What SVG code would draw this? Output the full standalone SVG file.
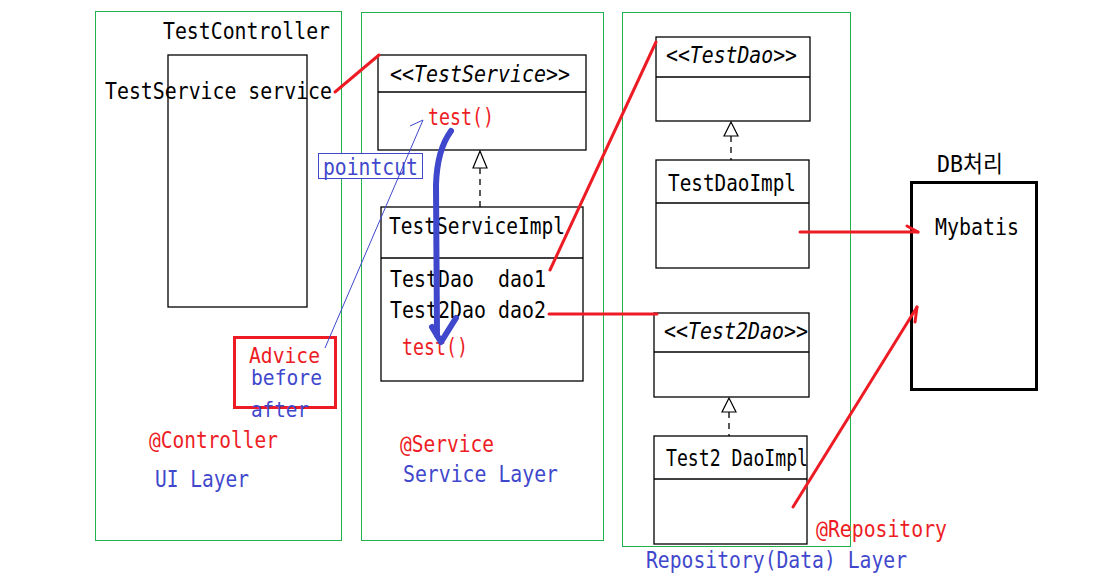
<svg xmlns="http://www.w3.org/2000/svg" width="1093" height="586" viewBox="0 0 1093 586">
<style>
text{font-family:"DejaVu Sans Mono","Liberation Mono","Noto Sans CJK KR",monospace;font-size:23px}
.k{fill:#000}
.r{fill:#ed1c24}
.b{fill:#3f48cc}
.sm{font-size:21px}
.it{font-style:italic;font-weight:300}
.layer{fill:none;stroke:#22b14c;stroke-width:1}
.box{fill:#fff;stroke:#000;stroke-width:1.3}
.div{stroke:#000;stroke-width:1.3}
.red{stroke:#ed1c24;stroke-width:3;fill:none;stroke-linecap:round}
.dash{stroke:#000;stroke-width:1.3;stroke-dasharray:6,5}
.tri{fill:#fff;stroke:#000;stroke-width:1.2}
</style>
<rect width="1093" height="586" fill="#fff"/>
<g id="layers">
<rect class="layer" x="95.5" y="11.5" width="246" height="529"/>
<rect class="layer" x="361.5" y="12.5" width="242" height="528"/>
<rect class="layer" x="622.5" y="12.5" width="228" height="534"/>
</g>
<g id="controller">
<rect class="box" x="168" y="55" width="139" height="252" fill="none"/>
<text class="k" x="163" y="39" textLength="167" lengthAdjust="spacingAndGlyphs">TestController</text>
<text class="k" x="105" y="99" textLength="227" lengthAdjust="spacingAndGlyphs">TestService service</text>
</g>
<g id="testservice">
<rect class="box" x="378" y="55" width="208" height="95"/>
<line class="div" x1="378" y1="92" x2="586" y2="92"/>
<text class="k it" x="390" y="82" textLength="180" lengthAdjust="spacingAndGlyphs">&lt;&lt;TestService&gt;&gt;</text>
<text class="r" x="428" y="125" textLength="66" lengthAdjust="spacingAndGlyphs">test()</text>
</g>
<g id="testserviceimpl">
<rect class="box" x="381" y="207" width="202" height="174"/>
<line class="div" x1="381" y1="258" x2="583" y2="258"/>
<text class="k" x="389" y="234" textLength="176" lengthAdjust="spacingAndGlyphs">TestServiceImpl</text>
<text class="k" x="390" y="287" textLength="156" lengthAdjust="spacingAndGlyphs" xml:space="preserve">TestDao  dao1</text>
<text class="k" x="390" y="318" textLength="156" lengthAdjust="spacingAndGlyphs">Test2Dao dao2</text>
<text class="r" x="402" y="355" textLength="66" lengthAdjust="spacingAndGlyphs">test()</text>
</g>
<g id="testdao">
<rect class="box" x="656" y="37" width="154" height="84"/>
<line class="div" x1="656" y1="77" x2="810" y2="77"/>
<text class="k it" x="666" y="63" textLength="131" lengthAdjust="spacingAndGlyphs">&lt;&lt;TestDao&gt;&gt;</text>
</g>
<g id="testdaoimpl">
<rect class="box" x="656" y="160" width="153" height="108"/>
<line class="div" x1="656" y1="203" x2="809" y2="203"/>
<text class="k" x="668" y="191" textLength="128" lengthAdjust="spacingAndGlyphs">TestDaoImpl</text>
</g>
<g id="test2dao">
<rect class="box" x="654" y="313" width="155" height="84"/>
<line class="div" x1="654" y1="352" x2="809" y2="352"/>
<text class="k it" x="664" y="339" textLength="144" lengthAdjust="spacingAndGlyphs">&lt;&lt;Test2Dao&gt;&gt;</text>
</g>
<g id="test2daoimpl">
<rect class="box" x="654" y="436" width="153" height="108"/>
<line class="div" x1="654" y1="479" x2="807" y2="479"/>
<text class="k" x="666" y="466" textLength="142" lengthAdjust="spacingAndGlyphs">Test2 DaoImpl</text>
</g>
<g id="db">
<rect x="911.5" y="182.5" width="125" height="207" fill="#fff" stroke="#000" stroke-width="3"/>
<text class="k" x="937" y="172" textLength="66" lengthAdjust="spacingAndGlyphs">DB처리</text>
<text class="k" x="935" y="235" textLength="84" lengthAdjust="spacingAndGlyphs">Mybatis</text>
</g>
<g id="advice">
<rect x="234.5" y="337.5" width="101" height="70" fill="none" stroke="#ed1c24" stroke-width="3"/>
<text class="r sm" x="249" y="363" textLength="71" lengthAdjust="spacingAndGlyphs">Advice</text>
<text class="b sm" x="251" y="385" textLength="71" lengthAdjust="spacingAndGlyphs">before</text>
<text class="b sm" x="251" y="417" textLength="58" lengthAdjust="spacingAndGlyphs">after</text>
</g>
<g id="pointcut">
<rect x="318.5" y="153.5" width="104" height="25" fill="#fff" stroke="#3f48cc" stroke-width="1"/>
<text class="b" x="323" y="175" textLength="95" lengthAdjust="spacingAndGlyphs">pointcut</text>
</g>
<g id="labels">
<text class="r" x="149" y="448" textLength="129" lengthAdjust="spacingAndGlyphs">@Controller</text>
<text class="b" x="155" y="487" textLength="94" lengthAdjust="spacingAndGlyphs">UI Layer</text>
<text class="r" x="400" y="452" textLength="94" lengthAdjust="spacingAndGlyphs">@Service</text>
<text class="b" x="403" y="482" textLength="155" lengthAdjust="spacingAndGlyphs">Service Layer</text>
<text class="r" x="816" y="537" textLength="131" lengthAdjust="spacingAndGlyphs">@Repository</text>
<text class="b" x="646" y="568" textLength="261" lengthAdjust="spacingAndGlyphs">Repository(Data) Layer</text>
</g>
<g id="connectors">
<line class="red" x1="335" y1="92" x2="379" y2="55"/>
<line class="red" x1="550" y1="270" x2="656" y2="42"/>
<line class="red" x1="549" y1="314" x2="657" y2="314"/>
<line class="red" x1="800" y1="232" x2="918" y2="232"/>
<polyline class="red" points="907,226 918,232"/>
<line class="red" x1="793" y1="507" x2="917" y2="307"/>
<polyline class="red" points="917,307 915,322"/>
<line class="dash" x1="480" y1="168" x2="480" y2="207"/>
<polygon class="tri" points="480,151 473,168 487,168"/>
<line class="dash" x1="731" y1="136" x2="731" y2="160"/>
<polygon class="tri" points="731,122 724,136 738,136"/>
<line class="dash" x1="729" y1="412" x2="729" y2="436"/>
<polygon class="tri" points="729,398 722,412 736,412"/>
<line x1="325" y1="348" x2="423" y2="120" stroke="#3f48cc" stroke-width="1"/>
<line x1="410" y1="126" x2="423" y2="120" stroke="#3f48cc" stroke-width="1"/>
<path d="M451,131 Q437,150 436,185 L437,335" fill="none" stroke="#3f48cc" stroke-width="6" stroke-linecap="round"/>
<polyline points="432,327 441,342 456,318" fill="none" stroke="#3f48cc" stroke-width="6" stroke-linecap="round" stroke-linejoin="round"/>
</g>
</svg>
